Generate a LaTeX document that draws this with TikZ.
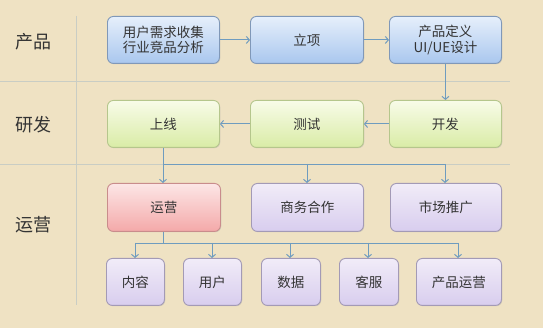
\documentclass[tikz,border=0pt]{standalone}
\usepackage{fontspec}
\newfontfamily\cjk{Noto Sans CJK SC}
\usetikzlibrary{arrows.meta,shadows}
\definecolor{bg}{HTML}{EFE2C3}
\definecolor{sep}{HTML}{C9CDC4}
\definecolor{conn}{HTML}{6F9CBF}
\definecolor{txt}{HTML}{333333}
\definecolor{blueTop}{HTML}{E6EFFB}
\definecolor{blueBot}{HTML}{A9C7EE}
\definecolor{blueBd}{HTML}{8098B8}
\definecolor{greenTop}{HTML}{F8FBE8}
\definecolor{greenBot}{HTML}{D9ECA6}
\definecolor{greenBd}{HTML}{B5C68C}
\definecolor{redTop}{HTML}{FCE6E6}
\definecolor{redBot}{HTML}{F4A9A9}
\definecolor{redBd}{HTML}{C98C8C}
\definecolor{purTop}{HTML}{F1ECF8}
\definecolor{purBot}{HTML}{D8CDEE}
\definecolor{purBd}{HTML}{A39AB6}
\begin{document}
\begin{tikzpicture}[x=1pt,y=-1pt,
  box/.style={rounded corners=6pt, line width=0.9pt, font=\cjk\fontsize{13.5}{15.5}\selectfont, text=txt, align=center, inner sep=0pt, anchor=north west,
    drop shadow={shadow xshift=0.8pt, shadow yshift=-0.8pt, fill=black!35, opacity=0.4}},
  bluebox/.style={box, draw=blueBd, top color=blueTop, bottom color=blueBot},
  greenbox/.style={box, draw=greenBd, top color=greenTop, bottom color=greenBot},
  redbox/.style={box, draw=redBd, top color=redTop, bottom color=redBot},
  purplebox/.style={box, draw=purBd, top color=purTop, bottom color=purBot},
  lane/.style={font=\cjk\fontsize{18}{20}\selectfont, text=txt},
  sepline/.style={draw=sep, line width=0.8pt},
  conn/.style={draw=conn, line width=0.9pt},
  arr/.style={conn, -{Straight Barb[length=3pt,width=7pt,line width=1pt]}}
]
\fill[bg] (0,0) rectangle (543,328);
\useasboundingbox (0,0) rectangle (543,328);
% separators
\draw[sepline] (0,81) -- (510,81);
\draw[sepline] (0,164) -- (510,164);
\draw[sepline] (76,16) -- (76,305);
% lane labels
\node[lane] (l1) at (33,42) {产品};
\node[lane] (l2) at (33,125) {研发};
\node[lane] (l3) at (33,225) {运营};
% row 1
\node[bluebox, minimum width=112pt, minimum height=47pt] (a1) at (107,16) {用户需求收集\\行业竞品分析};
\node[bluebox, minimum width=113pt, minimum height=47pt] (a2) at (250,16) {立项};
\node[bluebox, minimum width=112pt, minimum height=47pt] (a3) at (389,16) {产品定义\\UI/UE设计};
% row 2
\node[greenbox, minimum width=112pt, minimum height=47pt] (b1) at (107,100) {上线};
\node[greenbox, minimum width=113pt, minimum height=47pt] (b2) at (250,100) {测试};
\node[greenbox, minimum width=112pt, minimum height=47pt] (b3) at (389,100) {开发};
% row 3
\node[redbox, minimum width=113pt, minimum height=48pt] (c1) at (107,183) {运营};
\node[purplebox, minimum width=112pt, minimum height=48pt] (c2) at (251,183) {商务合作};
\node[purplebox, minimum width=111pt, minimum height=48pt] (c3) at (390,183) {市场推广};
% row 4
\node[purplebox, minimum width=58pt, minimum height=47pt] (d1) at (106,258) {内容};
\node[purplebox, minimum width=58pt, minimum height=47pt] (d2) at (183,258) {用户};
\node[purplebox, minimum width=59pt, minimum height=47pt] (d3) at (261,258) {数据};
\node[purplebox, minimum width=59pt, minimum height=47pt] (d4) at (339,258) {客服};
\node[purplebox, minimum width=85pt, minimum height=47pt] (d5) at (416,258) {产品运营};
% connectors
\draw[arr] (a1.east) -- (a2.west);
\draw[arr] (a2.east) -- (a3.west);
\draw[arr] (a3.south) -- (b3.north);
\draw[arr] (b3.west) -- (b2.east);
\draw[arr] (b2.west) -- (b1.east);
\coordinate (j1) at (163,164);
\draw[conn] (b1.south -| j1) -- (j1);
\draw[conn] (j1) -- (445,164);
\draw[arr] (j1) -- (c1.north -| j1);
\draw[arr] (307,164) -- (c2.north -| 307,164);
\draw[arr] (445,164) -- (c3.north -| 445,164);
\coordinate (j2) at (163,243);
\draw[conn] (c1.south -| j2) -- (j2);
\draw[conn] (135,243) -- (458,243);
\draw[arr] (135,243) -- (d1.north -| 135,243);
\draw[arr] (212,243) -- (d2.north -| 212,243);
\draw[arr] (290,243) -- (d3.north -| 290,243);
\draw[arr] (368,243) -- (d4.north -| 368,243);
\draw[arr] (458,243) -- (d5.north -| 458,243);
\end{tikzpicture}
\end{document}
